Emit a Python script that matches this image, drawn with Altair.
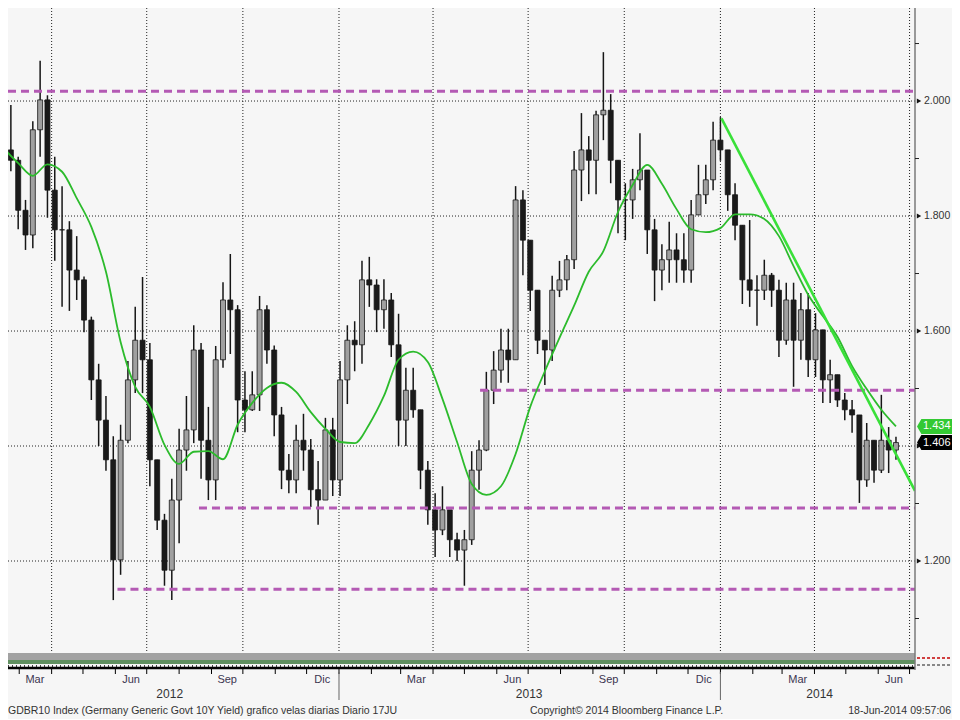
import altair as alt
import pandas as pd

# ---------------- data (GDBR10 yield, %) ----------------
# weekly candles, dated on the Wednesday of each week
week_dates = [d.strftime("%Y-%m-%dT00:00:00") for d in pd.date_range("2012-02-15", periods=123, freq="7D")]

highs = [1.990, 1.993, 1.903, 1.828, 1.965, 2.070, 2.010, 1.903, 1.852, 1.791,
         1.765, 1.695, 1.625, 1.543, 1.487, 1.417, 1.437, 1.548, 1.642, 1.694,
         1.579, 1.376, 1.282, 1.343, 1.430, 1.487, 1.610, 1.579, 1.468, 1.574,
         1.685, 1.734, 1.645, 1.530, 1.530, 1.661, 1.645, 1.575, 1.468, 1.386,
         1.437, 1.456, 1.412, 1.374, 1.449, 1.449, 1.548, 1.610, 1.617, 1.722,
         1.729, 1.690, 1.690, 1.666, 1.630, 1.536, 1.536, 1.463, 1.374, 1.318,
         1.330, 1.282, 1.249, 1.254, 1.391, 1.410, 1.529, 1.565, 1.604, 1.604,
         1.852, 1.845, 1.758, 1.671, 1.584, 1.696, 1.722, 1.732, 1.913, 1.979,
         1.939, 1.983, 2.085, 2.012, 1.897, 1.857, 1.882, 1.944, 1.880, 1.795,
         1.751, 1.790, 1.770, 1.770, 1.828, 1.889, 1.889, 1.964, 1.972, 1.915,
         1.857, 1.784, 1.793, 1.697, 1.724, 1.701, 1.689, 1.684, 1.684, 1.666,
         1.666, 1.631, 1.602, 1.550, 1.524, 1.492, 1.480, 1.454, 1.440, 1.410,
         1.489, 1.433, 1.416]

lows = [1.816, 1.878, 1.777, 1.741, 1.744, 1.903, 1.797, 1.722, 1.642, 1.635,
        1.654, 1.598, 1.480, 1.400, 1.357, 1.132, 1.176, 1.405, 1.492, 1.492,
        1.330, 1.254, 1.157, 1.132, 1.231, 1.357, 1.405, 1.343, 1.306, 1.306,
        1.536, 1.560, 1.424, 1.424, 1.461, 1.461, 1.543, 1.417, 1.325, 1.318,
        1.318, 1.357, 1.294, 1.263, 1.306, 1.313, 1.313, 1.473, 1.530, 1.543,
        1.642, 1.598, 1.604, 1.555, 1.400, 1.400, 1.449, 1.325, 1.263, 1.207,
        1.245, 1.207, 1.200, 1.157, 1.228, 1.324, 1.391, 1.473, 1.510, 1.510,
        1.550, 1.697, 1.635, 1.560, 1.506, 1.548, 1.659, 1.671, 1.708, 1.826,
        1.838, 1.838, 1.932, 1.857, 1.770, 1.758, 1.795, 1.845, 1.734, 1.652,
        1.671, 1.684, 1.684, 1.684, 1.684, 1.802, 1.821, 1.845, 1.896, 1.809,
        1.758, 1.647, 1.642, 1.609, 1.654, 1.642, 1.555, 1.576, 1.503, 1.550,
        1.520, 1.520, 1.475, 1.475, 1.468, 1.445, 1.423, 1.301, 1.329, 1.336,
        1.353, 1.353, 1.376]

closes = [1.915, 1.897, 1.810, 1.767, 1.950, 2.002, 1.845, 1.776, 1.776, 1.706,
          1.689, 1.619, 1.515, 1.445, 1.376, 1.202, 1.410, 1.515, 1.584, 1.550,
          1.376, 1.271, 1.184, 1.306, 1.393, 1.428, 1.567, 1.410, 1.341, 1.550,
          1.654, 1.637, 1.480, 1.463, 1.489, 1.637, 1.567, 1.454, 1.358, 1.341,
          1.410, 1.393, 1.324, 1.306, 1.428, 1.341, 1.515, 1.584, 1.576, 1.689,
          1.680, 1.637, 1.654, 1.576, 1.445, 1.497, 1.463, 1.358, 1.289, 1.254,
          1.289, 1.237, 1.219, 1.237, 1.358, 1.393, 1.497, 1.532, 1.567, 1.550,
          1.828, 1.758, 1.671, 1.584, 1.567, 1.671, 1.689, 1.724, 1.880, 1.915,
          1.897, 1.976, 1.984, 1.897, 1.828, 1.828, 1.863, 1.880, 1.776, 1.706,
          1.724, 1.741, 1.724, 1.706, 1.802, 1.837, 1.863, 1.932, 1.915, 1.837,
          1.784, 1.689, 1.671, 1.671, 1.697, 1.671, 1.584, 1.654, 1.584, 1.637,
          1.550, 1.602, 1.515, 1.524, 1.480, 1.463, 1.454, 1.341, 1.410, 1.358,
          1.410, 1.393, 1.406]

opens = [1.950] + closes[:-1]

# moving average (read every two weeks)
ma_dates = [d.strftime("%Y-%m-%dT00:00:00") for d in pd.date_range("2012-02-15", periods=62, freq="14D")]
ma_values = [1.918, 1.892, 1.870, 1.890, 1.877, 1.831, 1.781, 1.703, 1.581, 1.503,
             1.468, 1.402, 1.369, 1.390, 1.391, 1.377, 1.437, 1.475, 1.501, 1.510,
             1.494, 1.459, 1.430, 1.407, 1.405, 1.438, 1.487, 1.550, 1.564, 1.546,
             1.482, 1.407, 1.334, 1.315, 1.330, 1.386, 1.468, 1.530, 1.588, 1.644,
             1.703, 1.739, 1.807, 1.854, 1.889, 1.856, 1.812, 1.777, 1.772, 1.779,
             1.803, 1.803, 1.795, 1.765, 1.713, 1.663, 1.626, 1.590, 1.539, 1.499,
             1.463, 1.434]

# downtrend line
trend_dates = ["2014-01-02T00:00:00", "2014-07-06T05:00:00"]
trend_values = [1.970, 1.322]

# horizontal support / resistance levels
level_values = [2.017, 1.497, 1.292, 1.151]
level_starts = ["2012-02-19T06:00:00", "2013-05-16T00:00:00", "2012-08-20T00:00:00", "2012-06-03T00:00:00"]
level_end = "2014-07-06T05:00:00"

# last values
last_values = [1.434, 1.406]
last_labels = ["1.434", "1.406"]
last_colors = ["#33c933", "#000000"]

grid_dates = ["2012-04-01T00:00:00", "2012-07-01T00:00:00", "2012-10-01T00:00:00",
              "2013-01-01T00:00:00", "2013-04-01T00:00:00", "2013-07-01T00:00:00",
              "2013-10-01T00:00:00", "2014-01-01T00:00:00", "2014-04-01T00:00:00",
              "2014-07-01T00:00:00"]
grid_values = [1.2, 1.4, 1.6, 1.8, 2.0]
ylabel_values = [1.2, 1.6, 1.8, 2.0]          # 1.400 sits under the last-value box
ylabel_texts = ["1.200", "1.600", "1.800", "2.000"]
yminor_values = [1.1, 1.3, 1.5, 1.7, 1.9, 2.1]

month_tick_dates = ["%d-%02d-01T00:00:00" % (yr, mo)
                    for yr in (2012, 2013, 2014) for mo in range(1, 13)
                    if not ((yr == 2012 and mo < 3) or (yr == 2014 and mo > 7))]
month_label_dates = ["2012-03-16T00:00:00", "2012-06-16T00:00:00", "2012-09-16T00:00:00",
                     "2012-12-16T00:00:00", "2013-03-16T00:00:00", "2013-06-16T00:00:00",
                     "2013-09-16T00:00:00", "2013-12-16T00:00:00", "2014-03-16T00:00:00",
                     "2014-06-16T00:00:00"]
month_labels = ["Mar", "Jun", "Sep", "Dic", "Mar", "Jun", "Sep", "Dic", "Mar", "Jun"]
year_label_dates = ["2012-07-23T00:00:00", "2013-07-02T00:00:00", "2014-04-06T00:00:00"]
year_labels = ["2012", "2013", "2014"]
year_sep_dates = ["2013-01-01T00:00:00", "2014-01-01T00:00:00"]

footer_left = "GDBR10 Index (Germany Generic Govt 10Y Yield) grafico velas diarias  Diario 17JU"
footer_mid = "Copyright\u00a9 2014 Bloomberg Finance L.P."
footer_right = "18-Jun-2014 09:57:06"

# ---------------- chart ----------------
W, H = 907, 645
RIGHT, BOTTOM = 37, 66
FONT = "Liberation Sans"

xs = alt.Scale(domain=["2012-02-19T06:00:00", "2014-07-06T05:00:00"], padding=0)
ys = alt.Scale(domain=[1.040, 2.1618], nice=False, zero=False, padding=0)

candles = pd.DataFrame({"date": week_dates, "open": opens, "high": highs, "low": lows, "close": closes})
ma = pd.DataFrame({"date": ma_dates, "ma": ma_values})
trend = pd.DataFrame({"date": trend_dates, "v": trend_values})
levels = pd.DataFrame({"v": level_values, "start": level_starts, "end": [level_end] * len(level_values)})
last = pd.DataFrame({"v": last_values, "t": last_labels, "c": last_colors})
one = pd.DataFrame({"a": [0]})


def X(field):
    return alt.X(field, scale=xs, axis=None)


def Y(field):
    return alt.Y(field, scale=ys, axis=None)


# bottom scroll band (decoration)
band_gray = alt.Chart(one).mark_rect(color="#a2a2a2").encode(
    x=alt.value(0), x2=alt.value(W), y=alt.value(H), y2=alt.value(H + 7))
band_green = alt.Chart(one).mark_rect(color="#5f8f5f").encode(
    x=alt.value(0), x2=alt.value(W), y=alt.value(H + 7), y2=alt.value(H + 11))
band_dots = alt.Chart(one).mark_rule(color="#444", strokeDash=[1, 3], strokeWidth=2).encode(
    x=alt.value(0), x2=alt.value(W), y=alt.value(H + 13))
band_red = alt.Chart(one).mark_rule(color="#d04040", strokeDash=[3, 2], strokeWidth=2).encode(
    x=alt.value(W + 2), x2=alt.value(W + RIGHT), y=alt.value(H + 5))
band_red2 = alt.Chart(one).mark_rule(color="#888", strokeDash=[3, 2], strokeWidth=2).encode(
    x=alt.value(W + 2), x2=alt.value(W + RIGHT), y=alt.value(H + 12))

# x axis line and month ticks
x_line = alt.Chart(one).mark_rule(color="#000", strokeWidth=2.5).encode(
    x=alt.value(0), x2=alt.value(W), y=alt.value(H + 15))
x_ticks = alt.Chart(pd.DataFrame({"d": month_tick_dates})).mark_rule(color="#000", strokeWidth=1).encode(
    x=X("d:T"), y=alt.value(H + 16), y2=alt.value(H + 21))

# y axis line, ticks, markers and labels (right side)
y_line = alt.Chart(one).mark_rule(color="#7a7a7a", strokeWidth=1.5).encode(
    x=alt.value(W), y=alt.value(0), y2=alt.value(H + 17))
y_minor = alt.Chart(pd.DataFrame({"v": yminor_values})).mark_rule(color="#222", strokeWidth=1).encode(
    y=Y("v:Q"), x=alt.value(W), x2=alt.value(W + 4))
y_tri = alt.Chart(pd.DataFrame({"v": grid_values})).mark_point(
    shape="triangle-right", filled=True, size=26, color="#111", opacity=1).encode(
    y=Y("v:Q"), x=alt.value(W + 4))
y_lab = alt.Chart(pd.DataFrame({"v": ylabel_values, "t": ylabel_texts})).mark_text(
    font=FONT, fontSize=10.5, color="#333", align="left", baseline="middle").encode(
    y=Y("v:Q"), x=alt.value(W + 9), text="t:N")

grid_x = alt.Chart(pd.DataFrame({"d": grid_dates})).mark_rule(
    color="#222", strokeWidth=1, strokeDash=[1, 2]).encode(x=X("d:T"))
grid_y = alt.Chart(pd.DataFrame({"v": grid_values})).mark_rule(
    color="#222", strokeWidth=1, strokeDash=[1, 2]).encode(y=Y("v:Q"))

wicks = alt.Chart(candles).mark_rule(color="#161616", strokeWidth=1.5, clip=True).encode(
    x=X("date:T"), y=Y("low:Q"), y2="high:Q")
bodies = alt.Chart(candles).mark_bar(size=5, stroke="#161616", strokeWidth=0.8, clip=True).encode(
    x=X("date:T"), y=Y("open:Q"), y2="close:Q",
    fill=alt.condition("datum.close > datum.open", alt.value("#a0a0a0"), alt.value("#1a1a1a")))

level_rules = alt.Chart(levels).mark_rule(color="#b45ab4", strokeWidth=3, strokeDash=[8, 5]).encode(
    x=X("start:T"), x2="end:T", y=Y("v:Q"))

ma_line = alt.Chart(ma).mark_line(color="#2cbb2c", strokeWidth=1.8, interpolate="monotone", clip=True).encode(
    x=X("date:T"), y=Y("ma:Q"))
trend_line = alt.Chart(trend).mark_line(color="#39e039", strokeWidth=2.6, clip=True).encode(
    x=X("date:T"), y=Y("v:Q"))

box_path = "M -1 0 L -0.75 -0.43 L 1 -0.43 L 1 0.43 L -0.75 0.43 Z"
last_box = alt.Chart(last).mark_point(shape=box_path, filled=True, size=1225, strokeWidth=0, opacity=1).encode(
    y=Y("v:Q"), x=alt.value(W + 19.5), color=alt.Color("c:N", scale=None))
last_txt = alt.Chart(last).mark_text(align="left", baseline="middle", color="white",
                                     font=FONT, fontSize=11).encode(
    y=Y("v:Q"), x=alt.value(W + 8), text="t:N")

month_txt = alt.Chart(pd.DataFrame({"d": month_label_dates, "t": month_labels})).mark_text(
    font=FONT, fontSize=11, color="#3b3550", baseline="middle").encode(
    x=X("d:T"), y=alt.value(H + 27), text="t:N")
year_txt = alt.Chart(pd.DataFrame({"d": year_label_dates, "t": year_labels})).mark_text(
    font=FONT, fontSize=12, color="#333", baseline="middle").encode(
    x=X("d:T"), y=alt.value(H + 41), text="t:N")
year_sep = alt.Chart(pd.DataFrame({"d": year_sep_dates})).mark_rule(color="#666", strokeWidth=1).encode(
    x=X("d:T"), y=alt.value(H + 19), y2=alt.value(H + 47))

FOOT_Y = H + 58
foot_l = alt.Chart(one).mark_text(font=FONT, fontSize=10.5, color="#333", align="left", baseline="middle").encode(
    x=alt.value(0), y=alt.value(FOOT_Y), text=alt.value(footer_left))
foot_m = alt.Chart(one).mark_text(font=FONT, fontSize=10.5, color="#333", align="left", baseline="middle").encode(
    x=alt.value(522), y=alt.value(FOOT_Y), text=alt.value(footer_mid))
foot_r = alt.Chart(one).mark_text(font=FONT, fontSize=10.5, color="#333", align="right", baseline="middle").encode(
    x=alt.value(W + RIGHT - 1), y=alt.value(FOOT_Y), text=alt.value(footer_right))

chart = alt.layer(
    band_gray, band_green, band_dots, band_red, band_red2,
    grid_x, grid_y, wicks, bodies, level_rules, ma_line, trend_line,
    x_line, x_ticks, y_line, y_minor, y_tri, y_lab,
    last_box, last_txt, month_txt, year_txt, year_sep, foot_l, foot_m, foot_r
).properties(
    width=W, height=H,
    autosize=alt.AutoSizeParams(type="none"),
    padding={"left": 0, "top": 0, "right": RIGHT, "bottom": BOTTOM},
    background="#f6f6f6",
).configure(font=FONT, view=alt.ViewConfig(strokeWidth=0))

chart.save("out.html", embed_options={"renderer": "svg", "actions": False})
